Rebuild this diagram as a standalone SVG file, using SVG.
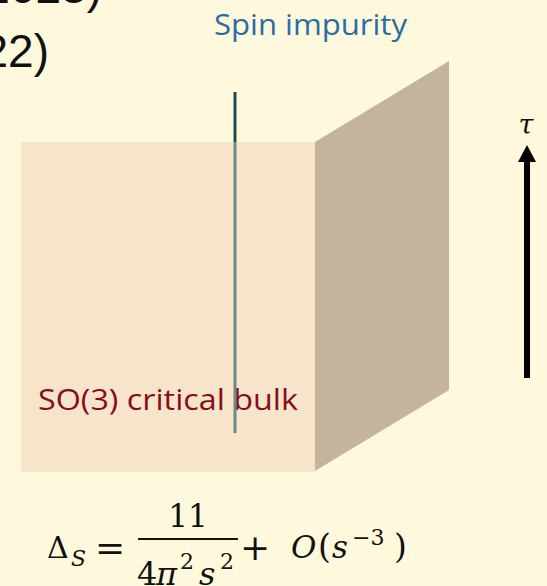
<svg xmlns="http://www.w3.org/2000/svg" width="547" height="586" viewBox="0 0 547 586">
<style>
.hdr{font-family:"Liberation Sans",Arial,sans-serif;font-size:46px;fill:#111}
.math{font-family:"DejaVu Serif","Liberation Serif",serif;fill:#111}
.it{font-style:italic}
.sans{font-family:"Open Sans","Liberation Sans",sans-serif;font-size:29px}
</style>
<rect width="547" height="586" fill="#fef9dc"/>
<text class="hdr" x="102" y="3" text-anchor="end">2023)</text>
<text class="hdr" x="49" y="67" text-anchor="end">22)</text>
<g id="bulk">
<polygon points="315,142 449,61 449,390 315,471" fill="#c3b49b"/>
<rect x="21" y="142" width="294" height="330" fill="#f6e5cb"/>
<text class="sans" x="38" y="410" fill="#8a0c1c" textLength="260" lengthAdjust="spacingAndGlyphs">SO(3) critical bulk</text>
</g>
<g id="impurity">
<line x1="235" y1="92" x2="235" y2="142" stroke="#1f4b52" stroke-width="3"/>
<line x1="235" y1="142" x2="235" y2="433" stroke="#6a8b87" stroke-width="3"/>
<text class="sans" x="214" y="35" fill="#2b6ca3" textLength="193" lengthAdjust="spacingAndGlyphs">Spin impurity</text>
</g>
<g id="tau-axis">
<line x1="527" y1="378" x2="527" y2="158" stroke="#000" stroke-width="6"/>
<polygon points="527,145 518,162 536,162" fill="#000"/>
<text class="math it" x="526" y="134" font-size="27" text-anchor="middle">τ</text>
</g>
<g id="formula">
<text class="math" x="47" y="558" font-size="30">Δ</text>
<text class="math it" x="71" y="566" font-size="22">S</text>
<text class="math" x="110" y="560" font-size="36" text-anchor="middle">=</text>
<text class="math" x="188" y="527" font-size="31" text-anchor="middle">11</text>
<line x1="138" y1="539" x2="238" y2="539" stroke="#111" stroke-width="2"/>
<text class="math" y="585" font-size="32"><tspan x="137">4</tspan><tspan class="it" x="156">π</tspan><tspan x="180" y="569" font-size="22">2</tspan><tspan class="it" x="199" y="585">s</tspan><tspan x="220" y="569" font-size="22">2</tspan></text>
<text class="math" x="255" y="560" font-size="36" text-anchor="middle">+</text>
<text class="math" y="558" font-size="31"><tspan class="it" x="291">O</tspan><tspan x="318" font-size="33">(</tspan><tspan class="it" x="332">s</tspan><tspan x="352" y="545" font-size="22">−3</tspan><tspan x="394" y="558" font-size="33">)</tspan></text>
</g>
</svg>
